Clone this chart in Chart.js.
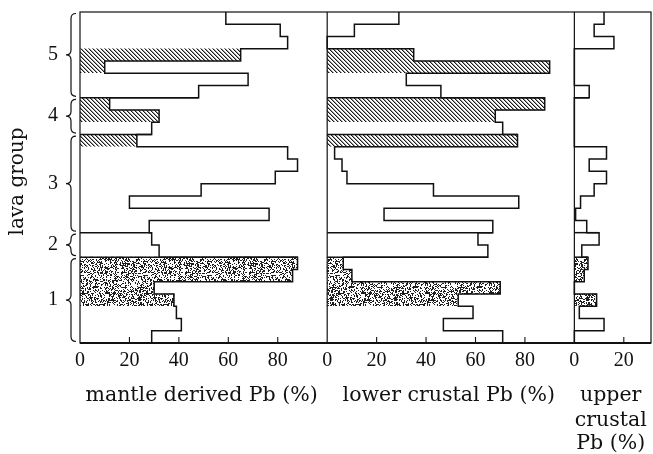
<!DOCTYPE html>
<html>
<head>
<meta charset="utf-8">
<title>Pb sources by lava group</title>
<script src="https://cdn.jsdelivr.net/npm/chart.js@4.4.0/dist/chart.umd.min.js"></script>
<style>
  html, body { margin: 0; padding: 0; background: #fff; }
  #wrap { position: relative; width: 653px; height: 454px; }
</style>
</head>
<body>
<div id="wrap"><canvas id="pb-chart"></canvas></div>
<script>
// lava groups from top to bottom, and how many samples each one has
const groupNames = ["5", "4", "3", "2", "1"];
const groupSizes = [7, 3, 8, 2, 7];

// fill of each sample row: w = plain, h = hatched, s = stippled
const rowFill = ["w", "w", "w", "h", "h", "w", "w",
                 "h", "h", "w",
                 "h", "w", "w", "w", "w", "w", "w", "w",
                 "w", "w",
                 "s", "s", "s", "s", "w", "w", "w"];

// share of Pb from each source (%), one value per sample, top row first
const mantlePb     = [59, 81, 84, 65, 10, 68, 48, 12, 32, 29, 23, 84, 88, 79, 49, 20, 76.5, 28, 29, 32, 88, 86, 30, 38, 39, 41, 29];
const lowerCrustPb = [29, 11, 0, 35, 90, 32, 46, 88, 68, 71, 77, 3, 6, 8, 43, 77.5, 23, 67, 61, 65, 6.5, 10, 70, 53, 59, 47, 71];
const upperCrustPb = [12, 8, 16, 0, 0, 0, 6, 0, 0, 0, 0, 13, 6, 13, 8, 2.5, 0.5, 5, 10, 3, 5.5, 4, 0, 9, 2, 12, 0];

// tick labels under each panel
const wideTicks = [0, 20, 40, 60, 80];
const narrowTicks = [0, 20];

const panels = [
  { values: mantlePb, range: 100, ticks: wideTicks, title: ["mantle derived Pb (%)"] },
  { values: lowerCrustPb, range: 100, ticks: wideTicks, title: ["lower crustal Pb (%)"] },
  { values: upperCrustPb, range: 31, ticks: narrowTicks, title: ["upper", "crustal", "Pb (%)"] }
];

// the three panels sit side by side on one x axis
let offset = 0;
panels.forEach(p => { p.base = offset; offset += p.range; });
const xMax = offset;

const rowLabels = [];
const groupEnds = [];
groupNames.forEach((g, gi) => {
  for (let k = 1; k <= groupSizes[gi]; k++) rowLabels.push(g + "-" + k);
  groupEnds.push(rowLabels.length - 1);
});

const canvas = document.getElementById("pb-chart");
const ctx2d = canvas.getContext("2d");

function hatchTile() {
  const c = document.createElement("canvas");
  c.width = c.height = 4;
  const g = c.getContext("2d");
  g.fillStyle = "#fff";
  g.fillRect(0, 0, 4, 4);
  g.fillStyle = "#9a9a9a";
  for (let i = 0; i < 4; i++) g.fillRect((i + 1) % 4, i, 1, 1);
  g.fillStyle = "#1a1a1a";
  for (let i = 0; i < 4; i++) g.fillRect(i, i, 1, 1);
  return c;
}

function stippleTile() {
  const n = 64;
  const c = document.createElement("canvas");
  c.width = c.height = n;
  const g = c.getContext("2d");
  const img = g.createImageData(n, n);
  let seed = 12345;
  for (let i = 0; i < n * n; i++) {
    seed = (seed * 1103515245 + 12345) & 0x7fffffff;
    const v = ((seed >> 16) % 100) < 40 ? 30 : 255;
    img.data[i * 4] = img.data[i * 4 + 1] = img.data[i * 4 + 2] = v;
    img.data[i * 4 + 3] = 255;
  }
  g.putImageData(img, 0, 0);
  return c;
}

const fills = {
  w: "#ffffff",
  h: ctx2d.createPattern(hatchTile(), "repeat"),
  s: ctx2d.createPattern(stippleTile(), "repeat")
};

function panelAt(value) {
  let found = panels[0];
  panels.forEach(p => { if (value >= p.base - 0.001) found = p; });
  return found;
}

function brace(ctx, xTip, xEnd, y0, y1) {
  const xs = (xTip + xEnd) / 2;
  const mid = (y0 + y1) / 2;
  const r = Math.min(5, (y1 - y0) / 4);
  ctx.beginPath();
  ctx.moveTo(xEnd, y0);
  ctx.quadraticCurveTo(xs, y0, xs, y0 + r);
  ctx.lineTo(xs, mid - r);
  ctx.quadraticCurveTo(xs, mid, xTip, mid);
  ctx.quadraticCurveTo(xs, mid, xs, mid + r);
  ctx.lineTo(xs, y1 - r);
  ctx.quadraticCurveTo(xs, y1, xEnd, y1);
  ctx.stroke();
}

const outlinePlugin = {
  id: "outline",
  afterDraw(chart) {
    const { ctx, chartArea: area, scales: { x, y } } = chart;
    const half = (y.getPixelForValue(1) - y.getPixelForValue(0)) / 2;
    ctx.save();
    ctx.strokeStyle = "#111";

    // step outline of each panel's bars, plus lines between groups
    panels.forEach(p => {
      const px = v => x.getPixelForValue(p.base + v);
      ctx.lineWidth = 1.5;
      ctx.beginPath();
      p.values.forEach((v, i) => {
        const yc = y.getPixelForValue(i);
        if (i === 0) ctx.moveTo(px(v), yc - half);
        else ctx.lineTo(px(v), yc - half);
        ctx.lineTo(px(v), yc + half);
      });
      ctx.stroke();
      groupEnds.slice(0, -1).forEach(i => {
        const yb = y.getPixelForValue(i) + half;
        ctx.beginPath();
        ctx.moveTo(px(0), yb);
        ctx.lineTo(px(Math.max(p.values[i], p.values[i + 1])), yb);
        ctx.stroke();
      });
    });

    // frame and panel dividers
    ctx.lineWidth = 1.2;
    ctx.strokeRect(area.left, area.top, area.right - area.left, area.bottom - area.top);
    panels.slice(1).forEach(p => {
      const xp = x.getPixelForValue(p.base);
      ctx.beginPath();
      ctx.moveTo(xp, area.top);
      ctx.lineTo(xp, area.bottom);
      ctx.stroke();
    });
    ctx.lineWidth = 1.8;
    ctx.beginPath();
    ctx.moveTo(area.left, area.bottom);
    ctx.lineTo(area.right, area.bottom);
    ctx.stroke();

    // inward tick marks
    ctx.lineWidth = 1.1;
    panels.forEach(p => {
      p.ticks.slice(1).forEach(t => {
        const xp = x.getPixelForValue(p.base + t);
        ctx.beginPath();
        ctx.moveTo(xp, area.bottom);
        ctx.lineTo(xp, area.bottom - 6);
        ctx.stroke();
      });
    });

    // group braces and numbers
    ctx.fillStyle = "#111";
    ctx.lineWidth = 1.2;
    ctx.textAlign = "center";
    ctx.textBaseline = "middle";
    ctx.font = "20px 'Liberation Serif'";
    let first = 0;
    groupEnds.forEach((last, gi) => {
      const top = y.getPixelForValue(first) - half + 1.5;
      const bot = y.getPixelForValue(last) + half - 1.5;
      brace(ctx, 66, 76, top, bot);
      ctx.fillText(groupNames[gi], 53, (top + bot) / 2);
      first = last + 1;
    });

    // y axis title
    ctx.font = "20px 'DejaVu Serif'";
    ctx.save();
    ctx.translate(18, (area.top + area.bottom) / 2 + 4);
    ctx.rotate(-Math.PI / 2);
    ctx.fillText("lava group", 0, 0);
    ctx.restore();

    // panel titles
    ctx.font = "20.5px 'DejaVu Serif'";
    ctx.textBaseline = "alphabetic";
    const baselines = [401, 426, 449];
    panels.forEach(p => {
      const xc = x.getPixelForValue(p.base + p.range / 2) - 2;
      p.title.forEach((line, li) => ctx.fillText(line, xc, baselines[li]));
    });
    ctx.restore();
  }
};

const pbChart = new Chart(canvas, {
  type: "bar",
  data: {
    labels: rowLabels,
    datasets: panels.map(p => ({
      data: p.values.map(v => [p.base, p.base + v]),
      backgroundColor: c => fills[rowFill[c.dataIndex]],
      borderWidth: 0,
      grouped: false,
      categoryPercentage: 1,
      barPercentage: 1
    }))
  },
  options: {
    indexAxis: "y",
    responsive: true,
    maintainAspectRatio: false,
    animation: false,
    layout: { padding: { left: 80, right: 2, top: 12, bottom: 0 } },
    plugins: {
      legend: { display: false },
      tooltip: { enabled: false }
    },
    scales: {
      y: { type: "category", display: false, offset: true },
      x: {
        type: "linear",
        min: 0,
        max: xMax,
        grid: { display: false, drawTicks: false },
        border: { display: false },
        afterBuildTicks: axis => {
          axis.ticks = [];
          panels.forEach(p => p.ticks.forEach(t => axis.ticks.push({ value: p.base + t })));
        },
        afterFit: axis => { axis.height = 111; },
        ticks: {
          autoSkip: false,
          maxRotation: 0,
          padding: 6,
          color: "#111",
          font: { family: "Liberation Serif", size: 20 },
          callback: value => String(Math.round(value - panelAt(value).base))
        }
      }
    }
  },
  plugins: [outlinePlugin]
});
</script>
</body>
</html>
